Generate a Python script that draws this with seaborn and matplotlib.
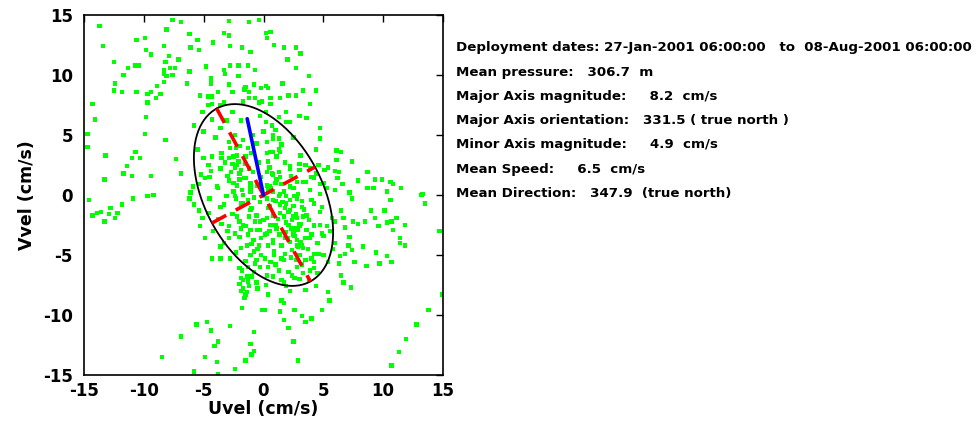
import matplotlib
matplotlib.use("Agg")
import matplotlib.pyplot as plt
import numpy as np
import pandas as pd
import seaborn as sns

# velocity samples (cm/s)
uvel = [
    -13.7, -7.6, -6.9, -2.9, -1.2, -0.4, -8.1, -10.6, -9.9, -6.2, -5.5, -4.2, -3.3, -2.9, -13.4, -8.3,
    -9.8, -6.1, -5.4, -2.8, -1.8, -1.1, -9.4, -12.5, -11.3, -10.7, -10.4, -8.2, -7.9, -7.1, -8.3, -7.8,
    -7.4, -4.8, -3.3, -2.8, -2.1, -1.3, -0.7, -11.7, -8.3, -8.1, -7.6, -6.2, -3.2, -4.4, -2.1, -12.4,
    -8.9, -8.3, -6.4, -4.4, -2.9, -1.5, -0.8, -0.2, -12.5, -11.8, -10.6, -9.7, -9.4, -8.6, -9.0, -5.3,
    -4.6, -4.3, -3.8, -2.6, -1.6, -1.2, -1.2, -0.7, -0.4, -14.3, -9.7, -4.6, -4.3, -3.6, -3.3, -1.7,
    -0.1, -5.1, -14.1, -9.8, -5.8, -9.9, -14.7, -8.2, -14.7, -13.2, -10.7, -11.0, -10.3, -7.3, -5.5, -5.0,
    -4.3, -3.5, -2.8, -11.4, -11.7, -11.0, -9.4, -6.9, -5.2, -4.4, -3.6, -2.7, -2.4, -1.9, -1.6, -13.3,
    -5.9, -5.4, -3.8, -2.9, -2.2, -1.1, -1.8, -6.1, -9.2, -2.9, -2.3, -1.7, -1.3, -2.9, -2.6, -2.1,
    -1.5, -1.2, -4.6, -4.9, -1.1, -1.7,
    0.2, 0.6, 0.3, 0.9, 1.7, 2.7, 3.1, 2.0, 2.7, 3.8, 1.6, 0.2, 0.4, 3.3, 4.4, 0.6,
    1.4, 2.1, 2.7, 3.9, 0.6, 0.2, 1.9, 1.3, 3.0, 3.6, 0.2, 0.7, 1.0, 2.2, 1.9, 4.7,
    4.7, 1.3, 0.8, 0.3, 4.4, 1.3, 0.8, 0.6, 6.1, 6.5, 6.1, 7.4, 0.4, 0.3, 1.3, 2.2,
    3.0, 3.9, 4.6, 5.1, 5.4, 6.0, 6.3, 6.2, 7.9, 8.7, 9.3, 9.9, 10.6, 10.8, 0.8, 1.1,
    1.5, 2.8, 3.3, 4.2, 4.7, 3.9, 6.0, 8.7, 9.2, 10.3, 11.5, 13.3, 2.5, 0.6, 0.3, 0.8,
    -14.6, -11.8, -10.9, -9.7, -6.2, -5.8, -5.4, -5.1, -4.6, -3.3, -3.1, -2.3, -1.9, -1.0, -0.6, -0.3,
    -5.3, -3.5, -2.9, -2.4, -1.9, -1.7, -1.1, -0.5, -4.9, -2.9, -3.6, -1.9, -1.4, -1.0, -0.4, -4.3,
    -3.6, -2.8, -1.1, -0.6, -0.3, -1.3, -0.8, -1.8, -1.9, -1.4, -0.6, -2.0, -1.7, -1.4, -1.5, -1.8,
    -0.1, -13.9, -13.6, -14.3, -13.3, -12.8, -12.9, -12.4, -12.2, -5.6, -4.7, -4.4, -2.8, -0.8, -6.9, -3.8,
    -4.1, -1.1, -0.8, -1.0, -4.9, -8.5, -3.9, -1.5, -2.4, -5.8, -3.8,
    0.3, 1.3, 1.9, 2.2, 2.8, 3.2, 4.0, 7.4, 10.6, 13.2, 13.5, 1.4, 1.8, 0.8, 0.3, 1.7,
    2.4, 2.8, 3.1, 3.8, 4.9, 5.7, 6.0, 6.5, 6.7, 7.5, 7.9, 8.5, 9.0, 9.3, 9.6, 10.1,
    10.3, 10.7, 11.1, 10.8, 11.8, 14.7, 0.6, 1.1, 1.9, 2.5, 2.9, 3.5, 4.2, 4.7, 5.3, 0.1,
    0.4, 0.8, 1.5, 2.2, 2.8, 3.3, 4.2, 4.6, 0.1, 0.6, 1.0, 1.7, 2.8, 3.5, 4.2, 4.2,
    0.3, 0.8, 1.5, 1.9, 2.4, 3.8, 4.4, 5.4, 6.3, 6.4, 6.8, 7.2, 7.1, 7.4, 8.3, 9.4,
    10.3, 11.4, 11.8, 11.4, 7.6, 8.6, 9.7, 10.7, 6.5, 6.7, 7.3, 0.4, 1.5, 1.7, 5.4, 5.5,
    4.9, 2.6, 0.1, 1.4, 3.2, 3.5, 4.0, 1.7, 2.1, 2.5, 2.9, 12.8, 11.9, 11.3, 10.7, 13.8,
    14.9,
    0.5, 1.0, 1.6, 2.5, 3.4, 2.1, 2.7, 3.3, 1.2, 1.9, 2.3, 3.0, 3.6, 2.6, 3.1, 2.0,
    1.3, 2.4, 1.8, 3.0, 2.7, 3.7, 0.9, 1.3, 2.1, 3.3, 0.5, 4.0, 4.5, 5.0, -0.3, -0.8,
    -1.3, -0.5, -0.2, -0.9, -1.5, -2.0, -2.5, -0.4, -1.0, -2.2, -3.2, -0.6, -2.4, 0.4, 1.0, 1.7,
    2.3, 0.5, -3.6, -2.6, -1.2, -0.2, -0.8, -2.3, -1.2, -1.9, -1.3, -1.6, 2.2, 3.5, 4.5, 5.6,
    6.0, 6.8, 5.3, 6.6, 7.2, -4.0, -3.6, -1.9, 0.0, -2.6, -5.0, -4.3,
    -2.5, -2.2, -2.0, -2.5, -1.5, -1.1, -2.4, -1.7, -1.1, -2.2, -1.5, -0.7, -0.3, -2.0, -0.85, 0.3,
    1.1, 2.2, 3.0, 0.7, 1.4, 2.8, 3.9, 0.5, 1.4, 2.6, 4.7, 0.8, 1.9, 3.2, 4.2, 0.4,
    1.4, 2.5, 3.6, 4.7, 0.0, 1.0, 2.1, 3.0, 4.2, 0.3, 1.4, 2.5, 2.8, 3.2, 0.8, 3.9,
    4.9, 2.2, 3.5, 5.0, 4.4, 1.4, 2.9, 0.0, 2.2, 2.6, 1.8, 2.9,
    0.9, 1.5, 2.3, 3.2, 3.9, 2.6, 1.7, 0.4, -0.2, -0.7, -1.5, -2.0, -1.0, -0.5, -1.7, 0.2,
    3.0, 4.0, 5.0, 5.8, -3.0, -3.8, -4.2, -3.3, -1.3, -0.5, -2.0, -4.5, -3.9, -3.0, -4.5, -3.5,
    -2.0, -0.9, -3.1, -0.3, 0.8, 1.5, 2.5, 3.1, 1.8, 3.5, 4.0,
]
vvel = [
    14.1, 14.6, 14.4, 14.5, 14.4, 14.6, 13.8, 12.9, 13.1, 13.4, 12.9, 12.7, 13.5, 13.3, 12.4, 12.4,
    12.1, 12.3, 12.1, 12.4, 12.3, 11.9, 11.7, 11.1, 10.6, 10.8, 10.8, 11.1, 11.6, 11.3, 10.4, 10.6,
    10.6, 10.7, 10.4, 10.8, 10.8, 10.8, 10.4, 10.0, 10.1, 9.9, 10.0, 10.3, 10.1, 9.7, 9.9, 9.3,
    9.1, 9.4, 9.3, 9.3, 9.2, 9.0, 9.2, 8.9, 8.7, 8.6, 8.6, 8.4, 8.6, 8.4, 8.1, 8.3,
    8.2, 8.2, 8.6, 8.6, 8.8, 8.6, 8.1, 8.1, 7.7, 7.6, 7.7, 7.5, 7.6, 7.5, 7.7, 7.8,
    7.8, 6.9, 6.3, 6.5, 5.8, 5.1, 5.1, 4.6, 4.0, 3.3, 3.6, 3.1, 3.1, 3.0, 3.8, 3.1,
    3.2, 3.1, 3.9, 2.4, 1.8, 1.6, 1.6, 1.8, 1.7, 2.0, 2.2, 1.9, 2.3, 2.1, 1.4, 1.3,
    0.7, 0.9, 0.6, 1.2, 0.8, 1.0, 0.4, 0.2, 0.0, 4.4, 3.9, 4.6, 3.9, 3.1, 2.6, 2.8,
    3.2, 2.2, 2.5, 1.4, 0.3, 0.0,
    13.5, 13.6, 13.1, 12.5, 12.3, 12.3, 11.8, 11.3, 10.6, 9.9, 9.3, 9.1, 8.9, 8.7, 8.7, 8.1,
    8.1, 8.3, 8.3, 7.6, 7.6, 6.9, 6.9, 6.5, 6.6, 6.4, 6.1, 5.8, 5.4, 6.1, 6.1, 5.6,
    4.7, 4.7, 4.7, 4.4, 3.8, 3.8, 3.6, 3.6, 3.7, 3.6, 2.9, 2.8, 2.8, 1.9, 1.9, 2.2,
    2.1, 2.2, 2.5, 2.1, 2.3, 2.0, 1.9, 1.4, 1.2, 1.9, 1.3, 1.3, 1.1, 0.9, 1.7, 1.3,
    0.9, 1.1, 1.1, 1.4, 0.9, 0.4, 0.4, 0.6, 0.6, 0.3, 0.6, 0.1, 0.6, 0.6, 0.8, 0.3,
    -0.4, -0.8, -0.3, -0.1, -0.3, -0.8, -1.3, -1.9, -1.5, -0.8, -0.1, -0.3, -0.7, -1.1, -1.7, -2.2,
    -2.6, -2.4, -2.6, -3.2, -2.8, -2.5, -2.9, -2.9, -3.6, -3.6, -4.3, -4.4, -4.2, -4.1, -4.2, -5.3,
    -5.3, -5.3, -5.0, -5.4, -6.0, -6.0, -6.4, -6.3, -6.9, -6.8, -7.3, -7.4, -7.8, -8.1, -8.3, -9.4,
    -9.6, -1.5, -1.4, -1.7, -2.2, -1.1, -1.6, -1.9, -1.5, -10.8, -10.6, -11.3, -10.9, -11.4, -11.8, -12.2,
    -12.6, -12.4, -13.0, -13.3, -13.5, -13.5, -13.9, -13.8, -14.5, -14.7, -14.9,
    -0.3, -0.1, -0.1, -0.4, -0.3, -0.5, -0.4, -0.3, -0.4, 0.0, -0.7, -0.8, -1.1, -1.7, -1.9, -1.8,
    -2.1, -1.9, -2.4, -2.1, -1.0, -1.9, -2.2, -1.3, -1.9, -2.2, -2.4, -2.2, -1.3, -1.9, -2.6, -1.3,
    -2.3, -2.2, -1.9, -2.9, -2.5, -3.0, -2.5, -2.8, -3.1, -3.3, -2.9, -3.6, -2.6, -2.5, -2.6, -3.3,
    -4.2, -3.8, -4.2, -3.9, -4.2, -4.4, -4.9, -4.9, -5.3, -5.6, -5.8, -5.4, -6.0, -5.4, -5.6, -6.1,
    -6.7, -6.8, -7.1, -7.6, -6.7, -7.1, -7.6, -5.6, -5.7, -5.1, -4.9, -3.5, -4.2, -4.6, -4.3, -4.8,
    -5.1, -3.6, -4.2, -4.0, -5.6, -5.9, -5.7, -5.6, -6.7, -7.3, -7.7, -8.3, -8.8, -9.0, -8.1, -8.8,
    -9.6, -9.6, -9.6, -9.7, -10.1, -10.6, -10.3, -10.4, -11.1, -12.2, -13.8, -10.8, -12.0, -13.1, -14.2, -9.6,
    -8.3,
    -0.9, -0.5, -0.6, -0.9, -1.2, -1.4, -1.6, -1.8, -2.0, -2.3, -2.8, -2.6, -2.9, -3.4, -3.9, -3.6,
    -3.3, -4.6, -4.9, -5.0, -5.4, -4.5, -4.7, -6.3, -6.4, -6.5, -3.0, -3.3, -4.0, -3.4, -0.6, -0.2,
    -0.4, 0.8, 1.5, 1.9, 2.6, 1.3, 0.3, 2.7, 3.5, 3.3, 2.7, 4.3, 5.0, 0.4, 1.0, 0.3,
    1.6, 2.3, -1.0, -1.6, -1.8, -3.6, -4.7, -4.8, -7.6, -8.0, -7.2, -8.6, -8.0, -7.9, -6.5, -3.0,
    -4.0, -2.7, 0.6, 0.9, 0.2, 4.8, 5.6, 6.2, 5.3, 6.9, 5.3, 6.3,
    3.2, 2.5, 1.8, 1.0, 1.4, 0.7, -0.1, -0.7, -1.25, -1.8, -2.6, -2.2, -2.9, -3.5, -3.75, 3.5,
    3.2, 2.4, 2.6, 1.8, 1.5, 1.1, 0.4, 0.7, 0.1, -0.1, 0.1, -0.4, -0.7, -1.0, -0.7, -1.1,
    -1.5, -1.8, -1.7, -1.4, -2.1, -2.5, -2.5, -2.4, -2.5, -3.2, -3.3, -3.2, -3.75, -4.2, -4.0, -3.6,
    -3.2, 0.7, 1.1, 1.0, 1.8, 3.6, 0.1, -0.1, -1.25, -2.8, -3.6, -4.3,
    -5.0, -5.3, -5.2, -5.8, -6.3, -6.9, -7.3, -6.0, -5.0, -5.7, -5.5, -6.1, -6.8, -7.8, -7.1, -7.5,
    -7.0, -5.3, -5.0, -4.5, -3.0, -2.0, -3.0, -4.0, -3.3, -4.5, -2.2, -0.3, 0.7, 1.6, 1.5, 3.5,
    4.1, 5.0, 6.2, 6.6, 5.0, 4.2, 4.8, 3.3, 2.7, 2.5, 1.5,
]

# current statistics
major_mag = 8.2
minor_mag = 4.9
major_dir = 331.5
mean_speed = 6.5
mean_dir = 347.9

info_lines = [
    "Deployment dates: 27-Jan-2001 06:00:00   to  08-Aug-2001 06:00:00",
    "Mean pressure:   306.7  m",
    "Major Axis magnitude:     8.2  cm/s",
    "Major Axis orientation:   331.5 ( true north )",
    "Minor Axis magnitude:     4.9  cm/s",
    "Mean Speed:     6.5  cm/s",
    "Mean Direction:   347.9  (true north)",
]
ticks = [-15, -10, -5, 0, 5, 10, 15]

sns.set_style("white")
plt.rcParams['font.family'] = ['DejaVu Sans']
plt.rcParams['font.weight'] = 'bold'
plt.rcParams['axes.unicode_minus'] = False
for key in ['text.color', 'axes.labelcolor', 'xtick.color', 'ytick.color']:
    plt.rcParams[key] = 'black'

df = pd.DataFrame({'u': uvel, 'v': vvel})

fig = plt.figure(figsize=(9.76, 4.34), dpi=100)
ax = fig.add_axes([84 / 976, 1 - 375 / 434, 359 / 976, 360 / 434])

sns.scatterplot(data=df, x='u', y='v', ax=ax, color='#00ff00', marker='s', s=10,
                linewidth=0, edgecolor='none', legend=False, zorder=2)

# variance ellipse
th = np.deg2rad(major_dir)
ax_major = np.array([np.sin(th), np.cos(th)])
ax_minor = np.array([np.cos(th), -np.sin(th)])
t = np.linspace(0, 2 * np.pi, 200)
ell = np.outer(major_mag * np.cos(t), ax_major) + np.outer(minor_mag * np.sin(t), ax_minor)
ax.plot(ell[:, 0], ell[:, 1], color='black', lw=1.3, zorder=3)

# principal axes
p1 = major_mag * ax_major
p2 = minor_mag * ax_minor
ax.plot([p1[0], -p1[0]], [p1[1], -p1[1]], color='red', lw=2.6, dashes=(4.5, 3), zorder=4)
ax.plot([-p2[0], p2[0]], [-p2[1], p2[1]], color='red', lw=2.6, dashes=(4.5, 3), zorder=4)

# mean vector
md = np.deg2rad(mean_dir)
ax.plot([0, mean_speed * np.sin(md)], [0, mean_speed * np.cos(md)], color='blue', lw=2.6, zorder=5)

ax.set_xlim(-15, 15)
ax.set_ylim(-15, 15)
ax.set_xticks(ticks)
ax.set_yticks(ticks)
ax.tick_params(direction='in', top=True, right=True, length=5, width=1, labelsize=12)
ax.tick_params(axis='x', pad=5)
ax.tick_params(axis='y', pad=8)
for sp in ax.spines.values():
    sp.set_linewidth(1.2)
    sp.set_color('black')
ax.set_xlabel('Uvel (cm/s)', fontsize=12.5, fontweight='bold', labelpad=0)
ax.set_ylabel('Vvel (cm/s)', fontsize=12.5, fontweight='bold', labelpad=5)

for i, line in enumerate(info_lines):
    fig.text(456 / 976, 1 - (48 + 24.2 * i) / 434, line, fontsize=9.65, fontweight='bold',
             va='center', ha='left')

fig.savefig('out.png', dpi=100)
